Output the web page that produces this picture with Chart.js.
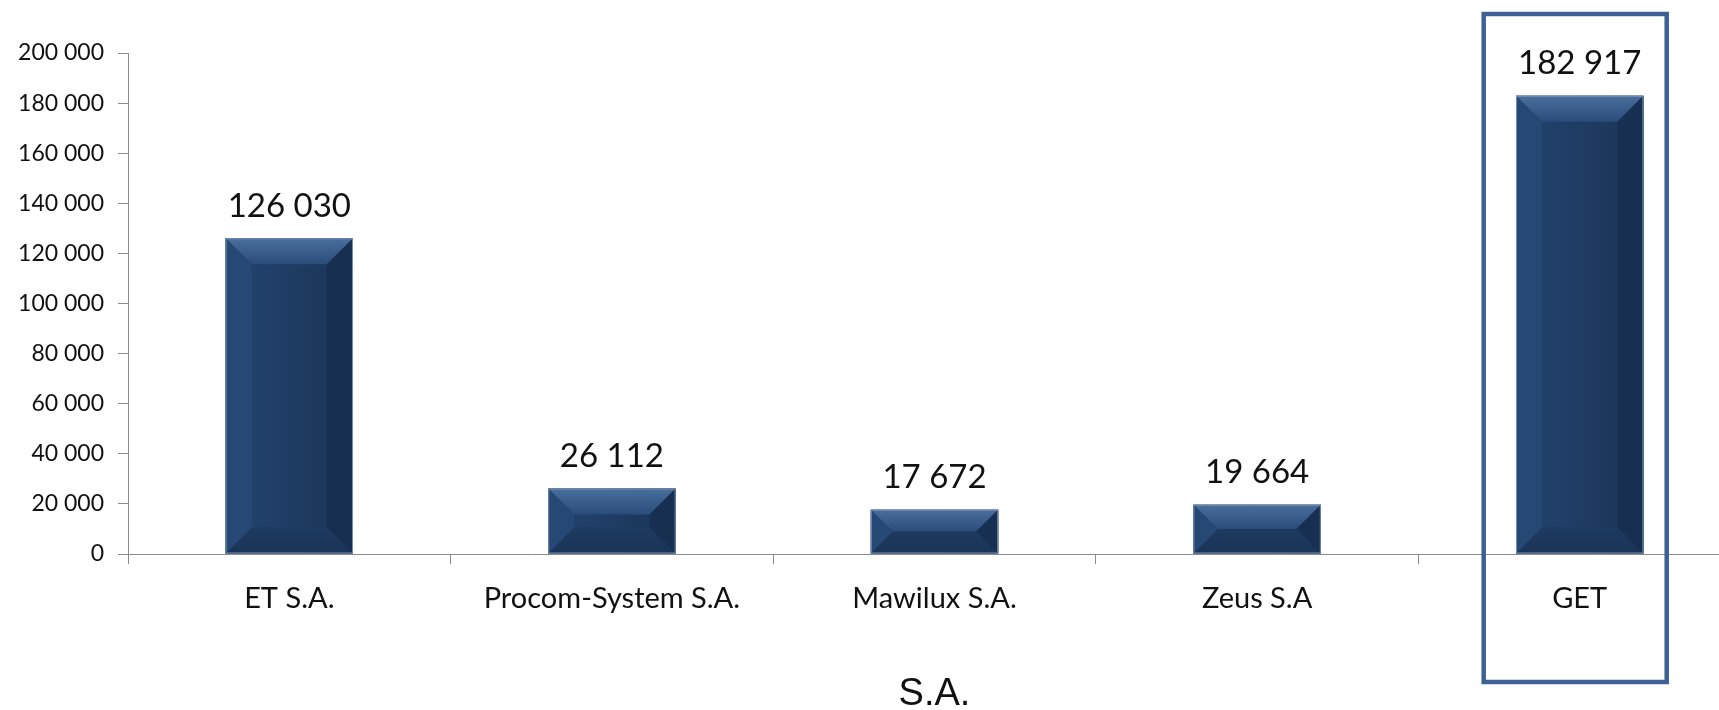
<!DOCTYPE html>
<html>
<head>
<meta charset="utf-8">
<script src="https://cdn.jsdelivr.net/npm/chart.js@4.4.1/dist/chart.umd.min.js"></script>
<style>
  body { margin: 0; overflow: hidden; background: #fff; }
  #wrap { width: 1741px; height: 710px; }
</style>
</head>
<body>
<div id="wrap"><canvas id="myChart"></canvas></div>
<script>
const companies = ["ET S.A.", "Procom-System S.A.", "Mawilux S.A.", "Zeus S.A", "GET"];
const revenue = [126030, 26112, 17672, 19664, 182917];
const yTicks = [0, 20000, 40000, 60000, 80000, 100000, 120000, 140000, 160000, 180000, 200000];
const axisTitle = "S.A.";
const highlighted = "GET";

function fmt(v) {
  // thousands with a space, like "126 030"
  return String(v).replace(/\B(?=(\d{3})+(?!\d))/g, " ");
}

// bevelled look on each bar
const bevelBars = {
  id: "bevelBars",
  afterDatasetsDraw(chart) {
    const ctx = chart.ctx;
    const meta = chart.getDatasetMeta(0);
    meta.data.forEach(function (bar) {
      const L = bar.x - bar.width / 2;
      const R = bar.x + bar.width / 2;
      const T = bar.y;
      const B = bar.base;
      const h = B - T;
      const b = Math.min(26, h / 2);
      ctx.save();

      var face = ctx.createLinearGradient(L, 0, R, 0);
      face.addColorStop(0, "#234470");
      face.addColorStop(0.5, "#1f3c63");
      face.addColorStop(1, "#193456");
      ctx.fillStyle = face;
      ctx.fillRect(L, T, R - L, h);

      // top
      var top = ctx.createLinearGradient(0, T, 0, T + b);
      top.addColorStop(0, "#4a6f9c");
      top.addColorStop(1, "#2a4c7b");
      ctx.fillStyle = top;
      ctx.beginPath();
      ctx.moveTo(L, T); ctx.lineTo(R, T); ctx.lineTo(R - b, T + b); ctx.lineTo(L + b, T + b);
      ctx.closePath(); ctx.fill();

      // bottom
      var bot = ctx.createLinearGradient(0, B - b, 0, B);
      bot.addColorStop(0, "#1e3a60");
      bot.addColorStop(1, "#1a3457");
      ctx.fillStyle = bot;
      ctx.beginPath();
      ctx.moveTo(L, B); ctx.lineTo(R, B); ctx.lineTo(R - b, B - b); ctx.lineTo(L + b, B - b);
      ctx.closePath(); ctx.fill();

      // left
      ctx.fillStyle = "#26487430";
      ctx.fillStyle = "#264875";
      ctx.beginPath();
      ctx.moveTo(L, T); ctx.lineTo(L + b, T + b); ctx.lineTo(L + b, B - b); ctx.lineTo(L, B);
      ctx.closePath(); ctx.fill();

      // right
      ctx.fillStyle = "#172f51";
      ctx.beginPath();
      ctx.moveTo(R, T); ctx.lineTo(R - b, T + b); ctx.lineTo(R - b, B - b); ctx.lineTo(R, B);
      ctx.closePath(); ctx.fill();

      ctx.strokeStyle = "#7890b2";
      ctx.lineWidth = 1;
      ctx.strokeRect(L + 0.5, T + 0.5, R - L - 1, h - 1);
      ctx.restore();
    });
  }
};

// value labels above bars
const valueLabels = {
  id: "valueLabels",
  afterDatasetsDraw(chart) {
    const ctx = chart.ctx;
    const meta = chart.getDatasetMeta(0);
    ctx.save();
    ctx.font = "33px Lato";
    ctx.fillStyle = "#111";
    ctx.textAlign = "center";
    ctx.textBaseline = "middle";
    meta.data.forEach(function (bar, i) {
      ctx.fillText(fmt(revenue[i]), bar.x, bar.y - 32);
    });
    ctx.restore();
  }
};

// frame around the highlighted company
const highlightBox = {
  id: "highlightBox",
  afterDraw(chart) {
    const ctx = chart.ctx;
    const idx = companies.indexOf(highlighted);
    const cx = chart.scales.x.getPixelForValue(idx);
    ctx.save();
    ctx.strokeStyle = "#3d6194";
    ctx.lineWidth = 4.5;
    ctx.strokeRect(cx - 96, 14, 183, 668);
    ctx.restore();
  }
};

const ctx = document.getElementById("myChart").getContext("2d");
const myChart = new Chart(ctx, {
  type: "bar",
  data: {
    labels: companies,
    datasets: [
      {
        label: "Revenue",
        data: revenue,
        backgroundColor: "#1f3c62",
        categoryPercentage: 1,
        barPercentage: 0.395,
      },
    ],
  },
  options: {
    responsive: true,
    maintainAspectRatio: false,
    animation: false,
    layout: { padding: { top: 53, bottom: 0, left: 0, right: 0 } },
    plugins: {
      legend: { display: false },
      tooltip: { enabled: false },
    },
    scales: {
      x: {
        grid: {
          drawOnChartArea: false,
          drawTicks: true,
          tickLength: 10,
          color: "#8c8c8c",
        },
        border: { color: "#8c8c8c" },
        ticks: {
          color: "#111",
          font: { family: "Lato", size: 29 },
          padding: 17,
        },
        title: {
          display: true,
          text: axisTitle,
          color: "#111",
          font: { family: "Liberation Sans", size: 38, lineHeight: 0.8 },
          padding: { top: 0, bottom: 0 },
        },
        afterFit: function (scale) {
          scale.height = 156;
        },
      },
      y: {
        min: 0,
        max: 200000,
        afterBuildTicks: function (scale) {
          scale.ticks = yTicks.map(function (v) { return { value: v }; });
        },
        grid: {
          drawOnChartArea: false,
          drawTicks: true,
          tickLength: 10,
          color: "#8c8c8c",
        },
        border: { color: "#8c8c8c" },
        ticks: {
          color: "#111",
          font: { family: "Lato", size: 23 },
          padding: 14,
          callback: function (v) { return fmt(v); },
        },
        afterFit: function (scale) {
          scale.width = 128;
        },
      },
    },
  },
  plugins: [bevelBars, valueLabels, highlightBox],
});
</script>
</body>
</html>
